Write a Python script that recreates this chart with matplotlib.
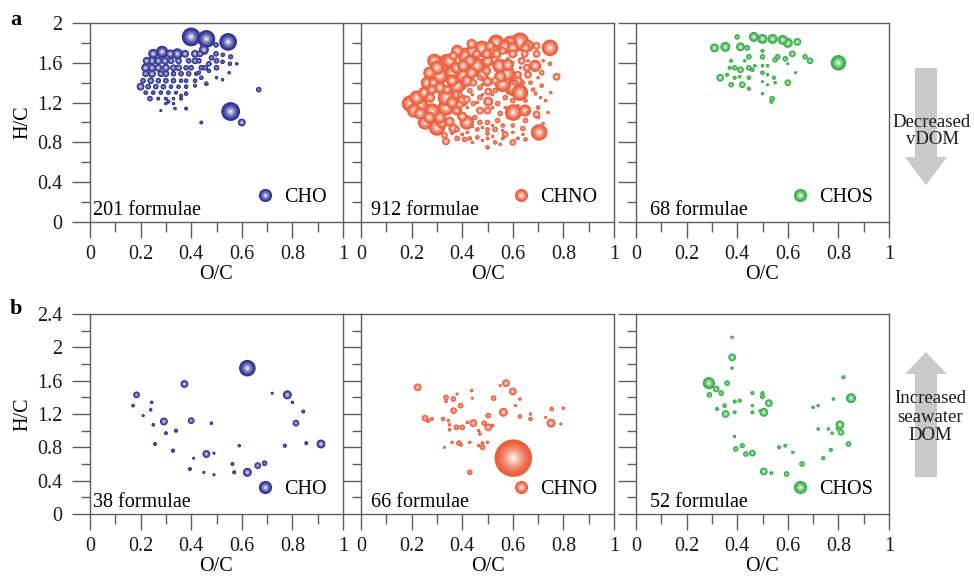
import numpy as np
import matplotlib
matplotlib.use("Agg")
import matplotlib.pyplot as plt
import matplotlib.colors as mcolors
from matplotlib.lines import Line2D
from matplotlib.patches import FancyArrow
from matplotlib.ticker import MultipleLocator, FuncFormatter

plt.rcParams['font.family'] = ['Liberation Serif', 'DejaVu Serif']

# van Krevelen points: (O/C, H/C, relative abundance as bubble radius)
cho_a = [
    (0.40, 1.86, 8), (0.46, 1.84, 7.5), (0.546, 1.81, 7.5), (0.45, 1.73, 4), (0.556, 1.11, 8),
    (0.60, 1.00, 3), (0.667, 1.33, 2), (0.44, 1.00, 1.2), (0.28, 1.12, 0.8),
    (0.25, 1.69, 4), (0.285, 1.71, 5), (0.317, 1.69, 3.5), (0.345, 1.69, 4.5), (0.376, 1.69, 3),
    (0.415, 1.69, 3), (0.435, 1.69, 2.5),
    (0.224, 1.62, 3), (0.245, 1.62, 3.5), (0.27, 1.62, 3), (0.296, 1.62, 3), (0.32, 1.62, 2.5),
    (0.35, 1.62, 2.5), (0.39, 1.62, 2), (0.415, 1.62, 2.5),
    (0.22, 1.55, 3.5), (0.245, 1.55, 3), (0.27, 1.55, 3), (0.30, 1.55, 3), (0.33, 1.55, 2.5),
    (0.35, 1.55, 2.5), (0.38, 1.55, 2), (0.40, 1.55, 2), (0.44, 1.55, 2),
    (0.22, 1.49, 2.5), (0.245, 1.49, 3), (0.28, 1.49, 2.5), (0.30, 1.49, 2.5), (0.33, 1.49, 2),
    (0.36, 1.49, 2), (0.39, 1.49, 2), (0.42, 1.49, 1.5),
    (0.21, 1.42, 2), (0.24, 1.42, 2.5), (0.27, 1.42, 2), (0.30, 1.42, 2), (0.33, 1.42, 2),
    (0.36, 1.42, 1.5), (0.38, 1.42, 1.5), (0.415, 1.42, 1.5),
    (0.20, 1.36, 3), (0.23, 1.36, 2), (0.26, 1.36, 2), (0.29, 1.36, 2), (0.32, 1.36, 1.5),
    (0.35, 1.36, 1.5), (0.38, 1.36, 1.5),
    (0.22, 1.30, 1.5), (0.25, 1.30, 1.5), (0.28, 1.30, 1.5), (0.31, 1.30, 1.5), (0.34, 1.30, 1.2),
    (0.237, 1.24, 2), (0.27, 1.24, 1.2), (0.30, 1.24, 1.2), (0.33, 1.24, 1), (0.36, 1.24, 1.2),
    (0.30, 1.19, 1), (0.33, 1.19, 1), (0.336, 1.14, 1), (0.38, 1.14, 1.2),
    (0.498, 1.78, 2), (0.498, 1.69, 2), (0.525, 1.68, 1.5), (0.556, 1.66, 1.8), (0.50, 1.62, 2),
    (0.524, 1.61, 1.5), (0.553, 1.59, 1.5), (0.58, 1.59, 1), (0.47, 1.59, 2), (0.455, 1.55, 2),
    (0.47, 1.52, 1.5), (0.50, 1.55, 2), (0.50, 1.45, 1), (0.524, 1.43, 1), (0.55, 1.50, 1),
    (0.46, 1.39, 1.5), (0.415, 1.37, 1.2), (0.38, 1.29, 1.5), (0.36, 1.27, 1.2), (0.31, 1.21, 1.2),
    (0.44, 1.45, 1.5), (0.43, 1.50, 1.5), (0.48, 1.65, 2), (0.43, 1.62, 2),
]

chno_a = [
    (0.194, 1.19, 7), (0.233, 1.17, 7), (0.28, 1.11, 7), (0.253, 1.00, 6), (0.30, 0.95, 7),
    (0.336, 1.15, 7), (0.336, 1.25, 7), (0.339, 1.60, 7.5), (0.312, 1.47, 7), (0.378, 1.37, 7),
    (0.404, 1.47, 7), (0.415, 1.67, 7), (0.457, 1.57, 7), (0.477, 1.74, 7), (0.534, 1.80, 7),
    (0.589, 1.80, 6), (0.628, 1.81, 8), (0.66, 1.77, 5), (0.747, 1.75, 7), (0.547, 1.57, 6),
    (0.576, 1.49, 7), (0.56, 1.39, 7), (0.60, 1.35, 7), (0.628, 1.30, 7), (0.602, 1.10, 7),
    (0.648, 1.12, 5), (0.704, 0.90, 7), (0.694, 1.08, 3), (0.773, 1.46, 3), (0.418, 1.00, 6),
    (0.38, 1.12, 4), (0.50, 1.41, 4), (0.503, 1.21, 4), (0.286, 1.40, 4), (0.28, 1.33, 4),
    (0.694, 1.69, 3), (0.694, 1.77, 3), (0.688, 1.57, 5), (0.635, 1.62, 3), (0.51, 1.77, 4),
    (0.56, 1.72, 3), (0.437, 1.79, 4),
    (0.22, 1.25, 6), (0.25, 1.30, 5), (0.26, 1.40, 5), (0.27, 1.50, 5), (0.29, 1.62, 6),
    (0.36, 1.50, 6), (0.36, 1.42, 5), (0.35, 1.62, 6), (0.38, 1.72, 5), (0.43, 1.62, 5),
    (0.44, 1.72, 5), (0.50, 1.62, 5), (0.52, 1.72, 6), (0.57, 1.76, 6), (0.60, 1.75, 5),
    (0.27, 1.05, 5), (0.21, 1.12, 6), (0.32, 1.00, 5), (0.40, 1.22, 5), (0.42, 1.42, 5),
    (0.48, 1.48, 5), (0.55, 1.46, 5), (0.62, 1.42, 4), (0.58, 1.58, 5), (0.65, 1.75, 4),
    (0.40, 1.06, 4), (0.36, 1.20, 5),
    (0.30, 1.55, 6), (0.378, 1.55, 5), (0.312, 1.35, 5), (0.273, 1.25, 4), (0.233, 1.09, 5),
    (0.312, 1.05, 5), (0.35, 1.01, 4), (0.365, 0.94, 4), (0.404, 1.57, 5), (0.437, 1.50, 5),
    (0.497, 1.69, 4), (0.536, 1.69, 4), (0.60, 1.69, 3.5), (0.647, 1.69, 3), (0.655, 1.55, 3),
    (0.66, 1.48, 3), (0.62, 1.48, 3), (0.714, 1.50, 2), (0.747, 1.59, 1.5), (0.714, 1.37, 1.5),
    (0.497, 1.52, 3.5), (0.503, 1.31, 3), (0.47, 1.35, 2), (0.47, 1.25, 2), (0.444, 1.19, 2),
    (0.418, 1.23, 3), (0.39, 1.28, 2), (0.43, 1.32, 2), (0.47, 1.12, 3), (0.45, 1.05, 2),
    (0.47, 1.00, 2), (0.50, 1.00, 2), (0.54, 1.02, 2), (0.55, 1.09, 2), (0.54, 1.19, 2),
    (0.57, 1.25, 2), (0.60, 1.22, 2), (0.65, 1.22, 1.5), (0.69, 1.29, 1.2), (0.65, 1.02, 2),
    (0.64, 0.94, 2), (0.60, 0.97, 1.5), (0.56, 0.97, 1.5), (0.53, 0.93, 2), (0.50, 0.93, 1.5),
    (0.46, 0.85, 1.5), (0.43, 0.84, 1.5), (0.38, 0.84, 2), (0.50, 0.84, 1.2), (0.56, 0.84, 1.2),
    (0.62, 0.84, 1.2), (0.68, 0.88, 1.2), (0.72, 0.99, 1), (0.70, 1.15, 1.5), (0.73, 1.22, 1),
    (0.71, 1.25, 1), (0.444, 1.40, 3), (0.47, 1.45, 2), (0.53, 1.42, 3), (0.53, 1.32, 2),
    (0.58, 1.42, 2), (0.61, 1.40, 2), (0.67, 1.40, 1.5), (0.68, 1.33, 1.5), (0.64, 1.40, 1.5),
    (0.50, 1.12, 3), (0.457, 1.69, 3.5), (0.365, 1.67, 3.5), (0.378, 1.28, 3.5), (0.39, 1.18, 3),
    (0.34, 1.33, 3.5), (0.378, 1.12, 3.5),
    (0.336, 0.81, 3), (0.41, 0.83, 2), (0.50, 0.75, 1.5), (0.53, 0.80, 1.5), (0.60, 0.80, 2.5),
    (0.65, 0.83, 1.5), (0.57, 0.88, 2.5), (0.50, 0.89, 1.5), (0.46, 0.93, 1.5), (0.38, 0.93, 2),
    (0.33, 0.87, 2.5),
    (0.42, 0.90, 1), (0.44, 0.96, 1), (0.48, 0.95, 1), (0.52, 0.97, 1), (0.58, 1.05, 1),
    (0.62, 1.05, 1), (0.66, 1.10, 1), (0.52, 1.15, 1), (0.57, 1.15, 1), (0.62, 1.17, 1),
    (0.48, 1.28, 1), (0.52, 1.28, 1), (0.55, 1.33, 1), (0.65, 1.30, 1), (0.58, 1.30, 1),
    (0.42, 1.15, 1), (0.46, 1.20, 1), (0.44, 1.28, 1), (0.41, 1.35, 1), (0.48, 1.38, 1),
    (0.56, 0.92, 1), (0.60, 0.90, 1), (0.64, 0.88, 1), (0.70, 1.05, 1), (0.74, 1.10, 1),
    (0.75, 1.30, 1), (0.72, 1.62, 1), (0.66, 1.62, 1), (0.60, 1.60, 1), (0.58, 1.64, 1),
    (0.70, 1.45, 1), (0.63, 1.55, 1), (0.36, 0.89, 1), (0.40, 0.88, 1.2), (0.44, 0.80, 1),
    (0.48, 0.82, 1), (0.52, 0.86, 1), (0.55, 0.78, 1),
]

chos_a = [
    (0.466, 1.86, 4), (0.50, 1.84, 4), (0.54, 1.84, 4), (0.58, 1.83, 4), (0.60, 1.80, 4),
    (0.638, 1.81, 3), (0.40, 1.86, 2), (0.31, 1.75, 3.5), (0.353, 1.76, 4), (0.413, 1.76, 3.5),
    (0.44, 1.75, 2), (0.80, 1.60, 6.5), (0.618, 1.69, 2.5), (0.668, 1.66, 2), (0.688, 1.62, 2.5),
    (0.59, 1.64, 2), (0.56, 1.66, 2), (0.55, 1.63, 2), (0.50, 1.66, 2), (0.446, 1.66, 2),
    (0.376, 1.62, 1.2), (0.39, 1.55, 2), (0.37, 1.55, 1.3), (0.413, 1.53, 2.5), (0.446, 1.55, 2),
    (0.46, 1.53, 1.5), (0.47, 1.57, 1), (0.50, 1.57, 1), (0.50, 1.50, 1.5), (0.52, 1.57, 1),
    (0.52, 1.48, 1), (0.545, 1.45, 1.3), (0.55, 1.40, 1), (0.60, 1.40, 2.5), (0.63, 1.50, 0.8),
    (0.333, 1.45, 3), (0.36, 1.48, 1.3), (0.39, 1.45, 1.3), (0.376, 1.38, 2), (0.41, 1.46, 1),
    (0.446, 1.45, 1.5), (0.42, 1.38, 2.5), (0.446, 1.34, 1.3), (0.50, 1.41, 0.8), (0.52, 1.38, 0.8),
    (0.50, 1.29, 1), (0.538, 1.24, 2), (0.535, 1.21, 1.3), (0.60, 1.59, 0.8), (0.50, 1.72, 1.3),
    (0.43, 1.62, 1),
]

cho_b = [
    (0.622, 1.75, 7), (0.373, 1.56, 3), (0.184, 1.43, 2.5), (0.78, 1.43, 3.5), (0.72, 1.45, 0.8),
    (0.80, 1.34, 1), (0.244, 1.34, 1), (0.17, 1.30, 1), (0.24, 1.25, 1), (0.21, 1.18, 0.8),
    (0.843, 1.23, 1.2), (0.292, 1.11, 3), (0.40, 1.12, 2.5), (0.25, 1.07, 1), (0.48, 1.09, 1),
    (0.34, 1.00, 1.3), (0.814, 1.09, 2.5), (0.30, 0.97, 1.2), (0.257, 0.84, 1.2), (0.328, 0.76, 1.3),
    (0.46, 0.72, 3), (0.49, 0.73, 0.8), (0.59, 0.82, 1), (0.77, 0.82, 1.3), (0.855, 0.85, 1.2),
    (0.913, 0.84, 3.5), (0.41, 0.67, 0.8), (0.395, 0.54, 1.2), (0.45, 0.50, 0.8), (0.49, 0.47, 0.8),
    (0.563, 0.60, 1.2), (0.57, 0.50, 1.2), (0.622, 0.50, 3.5), (0.663, 0.58, 2.5), (0.69, 0.61, 2),
]

chno_b = [
    (0.602, 0.67, 16.5), (0.224, 1.52, 3), (0.573, 1.57, 3), (0.60, 1.47, 3), (0.55, 1.54, 0.8),
    (0.437, 1.48, 1), (0.44, 1.39, 0.8), (0.336, 1.40, 2), (0.365, 1.38, 2), (0.336, 1.35, 1),
    (0.38, 1.44, 0.8), (0.394, 1.30, 2), (0.366, 1.24, 2.5), (0.524, 1.39, 2), (0.628, 1.38, 1),
    (0.563, 1.22, 3.5), (0.61, 1.30, 0.8), (0.503, 1.18, 2), (0.628, 1.17, 1.5), (0.67, 1.20, 1),
    (0.67, 1.14, 1.5), (0.754, 1.26, 1.5), (0.80, 1.27, 1), (0.751, 1.09, 3.5), (0.79, 1.08, 0.8),
    (0.73, 1.16, 0.8), (0.253, 1.15, 2.5), (0.265, 1.12, 1.5), (0.28, 1.14, 1.2), (0.324, 1.14, 1.5),
    (0.345, 1.12, 1), (0.35, 1.07, 1), (0.377, 1.04, 2), (0.40, 1.04, 2), (0.42, 1.10, 1),
    (0.444, 1.09, 3), (0.487, 1.09, 2), (0.503, 1.04, 3), (0.52, 1.06, 1.2), (0.465, 1.00, 1),
    (0.47, 0.96, 1), (0.35, 1.01, 1), (0.387, 0.85, 2), (0.395, 0.83, 1.2), (0.43, 0.86, 1),
    (0.48, 0.85, 1.2), (0.48, 0.80, 2), (0.465, 0.82, 1), (0.50, 0.86, 1), (0.33, 0.80, 0.8),
    (0.36, 0.86, 1), (0.43, 0.50, 2),
]

chos_b = [
    (0.288, 1.57, 5), (0.317, 1.50, 2.5), (0.337, 1.45, 2), (0.29, 1.43, 2), (0.36, 1.57, 2),
    (0.38, 1.88, 3), (0.38, 2.12, 1), (0.38, 1.75, 1), (0.32, 1.26, 1.3), (0.35, 1.30, 1.5),
    (0.354, 1.20, 3), (0.39, 1.35, 1.3), (0.41, 1.36, 1.3), (0.39, 1.22, 1.2), (0.46, 1.30, 1),
    (0.46, 1.45, 1.3), (0.50, 1.45, 1.3), (0.50, 1.41, 1.8), (0.525, 1.33, 3), (0.46, 1.22, 1.2),
    (0.505, 1.22, 3.5), (0.49, 1.24, 0.8), (0.389, 0.93, 1), (0.394, 0.78, 2), (0.42, 0.82, 1.8),
    (0.434, 0.72, 2), (0.46, 0.73, 2.5), (0.566, 0.80, 1.3), (0.59, 0.82, 1.2), (0.62, 0.74, 1),
    (0.656, 0.60, 2), (0.505, 0.51, 3), (0.535, 0.49, 1.2), (0.595, 0.48, 2), (0.70, 1.28, 1),
    (0.72, 1.30, 1), (0.72, 1.02, 1), (0.76, 1.02, 1), (0.775, 0.97, 1), (0.795, 1.02, 0.8),
    (0.806, 1.07, 3.5), (0.81, 0.98, 2.5), (0.84, 0.84, 2), (0.77, 0.77, 1.3), (0.74, 0.67, 1.3),
    (0.78, 1.38, 1), (0.82, 1.64, 1.3), (0.85, 1.39, 4),
]

groups = ['CHO', 'CHNO', 'CHOS']
colors = ['#2b2f8f', '#ec5d3b', '#37ad47']
rows = [[cho_a, chno_a, chos_a], [cho_b, chno_b, chos_b]]
counts = [[201, 912, 68], [38, 66, 52]]
ymax = [2.0, 2.4]
row_letters = ['a', 'b']

W, H = 974, 580
gray = '#5c5c5c'
NL = 9
kk = np.arange(NL)
frac = 1 - kk / NL
ramp = (kk / (NL - 1)) ** 1.5


def layer_colors(color, tmax=0.9):
    base = np.array(mcolors.to_rgb(color))
    t = tmax * ramp
    return base[None, :] * (1 - t[:, None]) + t[:, None]


def spheres(ax, pts, color):
    oc, hc, r = (np.array(v, dtype=float) for v in zip(*pts))
    o = np.argsort(-r)
    oc, hc, r = oc[o], hc[o], r[o]
    rp = 1.1 * r + 0.6
    tmax = 0.9 * np.clip((rp - 1.2) / 2.5, 0.3, 1.0)
    cols = np.concatenate([layer_colors(color, t) for t in tmax])
    s = (2 * rp[:, None] * frac[None, :] * 0.72) ** 2
    ax.scatter(np.repeat(oc, NL), np.repeat(hc, NL), s=s.ravel(), c=cols,
               linewidths=0, zorder=3)


fig = plt.figure(figsize=(W / 100, H / 100), dpi=100)
lefts = [90, 361, 636]
row_px = [(23, 222), (314, 514)]
count_x = [0.013, 0.04, 0.057]
fmt = FuncFormatter(lambda v, p: '%g' % round(v, 2))

for i, (top, bot) in enumerate(row_px):
    for j in range(3):
        ax = fig.add_axes([lefts[j] / W, 1 - bot / H, 253 / W, (bot - top) / H])
        spheres(ax, rows[i][j], colors[j])
        ax.set_xlim(0, 1)
        ax.set_ylim(0, ymax[i])
        ax.xaxis.set_major_locator(MultipleLocator(0.2))
        ax.xaxis.set_minor_locator(MultipleLocator(0.1))
        ax.yaxis.set_major_locator(MultipleLocator(0.4))
        ax.yaxis.set_minor_locator(MultipleLocator(0.2))
        ax.xaxis.set_major_formatter(fmt)
        ax.yaxis.set_major_formatter(fmt)
        for sp in ax.spines.values():
            sp.set_color(gray)
            sp.set_linewidth(1.0)
        ax.tick_params(which='both', direction='out', color=gray, width=1.0,
                       labelsize=14.5, labelcolor='#1a1a1a')
        ax.tick_params(axis='x', which='major', length=11.5, pad=5)
        ax.tick_params(axis='x', which='minor', length=7.5)
        ax.tick_params(axis='y', which='major', length=13, pad=7)
        ax.tick_params(axis='y', which='minor', length=6.5)
        ax.set_xlabel('O/C', fontsize=14.5, labelpad=1)
        if j == 0:
            ax.set_ylabel('H/C', fontsize=14.5, labelpad=3)
        else:
            ax.tick_params(axis='y', labelleft=False)
        ax.text(count_x[j], 0.035, '%d formulae' % counts[i][j], transform=ax.transAxes,
                fontsize=14.5, ha='left', va='baseline')
        lc = layer_colors(colors[j])
        handle = tuple(Line2D([], [], ls='', marker='o', ms=9.5 * f, mfc=c, mew=0)
                       for f, c in zip(frac, lc))
        ax.legend([handle], [groups[j]], loc='lower right', bbox_to_anchor=(0.935, 0.075),
                  frameon=False, fontsize=14.5, handlelength=1.0, handletextpad=0.45,
                  borderpad=0, borderaxespad=0)
    fig.text(16 / W, 1 - (20 if i == 0 else 309) / H, row_letters[i], fontsize=16,
             fontweight='bold', ha='center', va='center')

arrow_col = '#c9c9c9'
fig.add_artist(FancyArrow(926 / W, 1 - 68 / H, 0, -(185 - 68) / H, width=22 / W,
                          head_width=42 / W, head_length=28 / H, length_includes_head=True,
                          transform=fig.transFigure, color=arrow_col, lw=0))
fig.add_artist(FancyArrow(926 / W, 1 - 477 / H, 0, (477 - 352) / H, width=22 / W,
                          head_width=42 / W, head_length=22 / H, length_includes_head=True,
                          transform=fig.transFigure, color=arrow_col, lw=0))
fig.text(932 / W, 1 - 131 / H, 'Decreased\nvDOM', fontsize=13.5, ha='center', va='center',
         linespacing=0.95, color='#1a1a1a')
fig.text(930 / W, 1 - 417 / H, 'Increased\nseawater\nDOM', fontsize=13.5, ha='center',
         va='center', linespacing=1.15, color='#1a1a1a')

fig.savefig('out.png', dpi=100)
